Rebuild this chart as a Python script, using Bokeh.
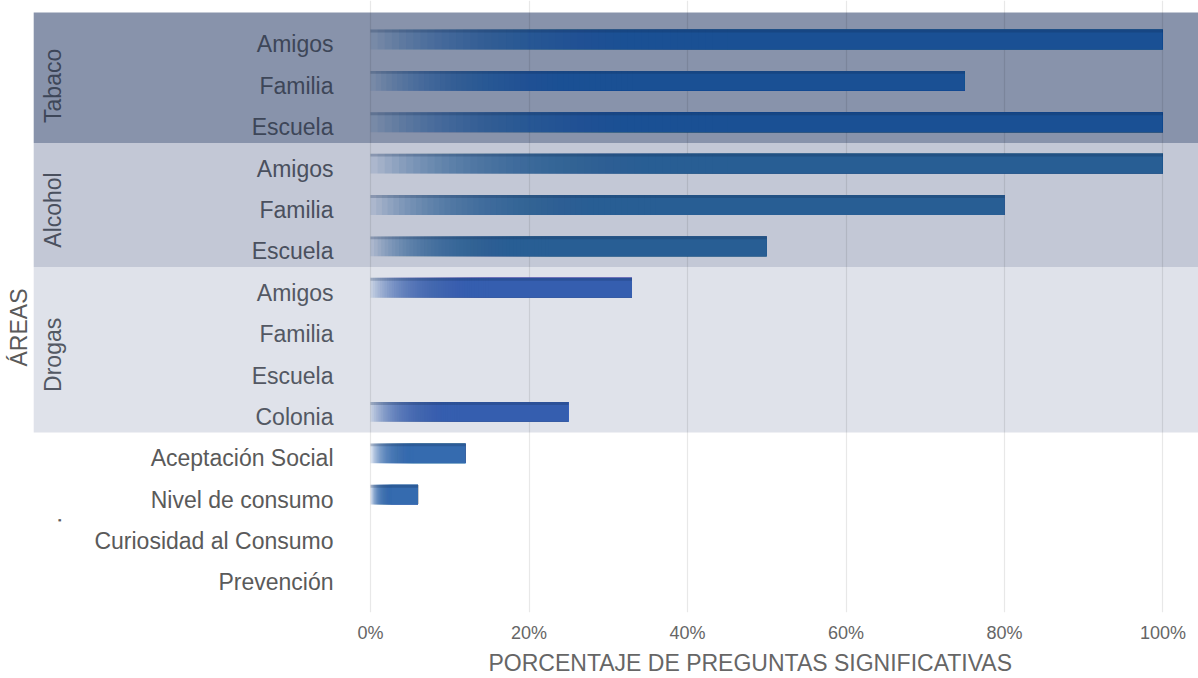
import math
from bokeh.plotting import figure
from bokeh.models import Range1d, FixedTicker, Title, ColumnDataSource
from bokeh.embed import file_html
from bokeh.resources import INLINE
from bokeh.core.properties import value

# ---- data ----
groups = ["Tabaco", "Alcohol", "Drogas", "."]
group_sizes = [3, 3, 4, 4]
items = ["Amigos", "Familia", "Escuela",
         "Amigos", "Familia", "Escuela",
         "Amigos", "Familia", "Escuela", "Colonia",
         "Aceptación Social", "Nivel de consumo", "Curiosidad al Consumo", "Prevención"]
pct = [100, 75, 100, 100, 80, 50, 33, 0, 0, 25, 12, 6, 0, 0]
x_ticks = [0, 20, 40, 60, 80, 100]
x_tick_labels = ["0%", "20%", "40%", "60%", "80%", "100%"]
x_title = "PORCENTAJE DE PREGUNTAS SIGNIFICATIVAS"
y_title = "ÁREAS"

# ---- style ----
band_colors = ["#8893ab", "#c3c8d6", "#dfe2ea", None]
bar_colors = ["#1f5591", "#26589a", "#3063ae", "#3366b3"]
text_colors = ["#3d4658", "#4a505e", "#535863", "#5a5a5a"]
FONT = "Liberation Sans"
BAR_H = 0.48
TXT_DY = 0.12

p = figure(width=1198, height=678, output_backend="svg", toolbar_location=None,
           x_range=Range1d(-46.69, 104.48), y_range=Range1d(13.847, -0.9425),
           min_border_left=0, min_border_right=0, min_border_top=0, min_border_bottom=20,
           background_fill_color="white", border_fill_color="white")
p.outline_line_color = None
p.yaxis.visible = False
p.ygrid.visible = False

rows = list(range(len(items)))
row_group = []
for gi, n in enumerate(group_sizes):
    row_group += [gi] * n

# bands
starts = [sum(group_sizes[:i]) for i in range(len(group_sizes))]
bl, br, bt, bb, bc = [], [], [], [], []
for gi, (s, n) in enumerate(zip(starts, group_sizes)):
    if band_colors[gi] is None:
        continue
    bl.append(-42.5)
    br.append(104.48)
    bt.append(s - 0.5 if s > 0 else -0.65)
    bb.append(s + n - 0.5)
    bc.append(band_colors[gi])
p.quad(left=bl, right=br, top=bt, bottom=bb, fill_color=bc, line_color=None, level="image")

# grid
p.xgrid.ticker = FixedTicker(ticks=x_ticks)
p.xgrid.grid_line_color = "black"
p.xgrid.grid_line_alpha = 0.09
p.xgrid.grid_line_width = 1.2

# gradient bars: overlapping translucent layers, all ending at the value
N = 50
F = 0.45
seg = dict(y=[], left=[], right=[], color=[], alpha=[])
top = dict(y=[], left=[], right=[], color=[])
for r, v in zip(rows, pct):
    if v <= 0:
        continue
    col = bar_colors[row_group[r]]
    seg["y"].append(r)
    seg["left"].append(0)
    seg["right"].append(v)
    seg["color"].append(col)
    seg["alpha"].append(0.15)
    for k in range(1, N + 1):
        seg["y"].append(r)
        seg["left"].append(v * F * k / N)
        seg["right"].append(v)
        seg["color"].append(col)
        seg["alpha"].append(0.075)
    top["y"].append(r - BAR_H / 2 + 0.035)
    top["left"].append(0)
    top["right"].append(v)
    top["color"].append("#0c2448")
p.hbar(y="y", left="left", right="right", height=BAR_H, fill_color="color",
       fill_alpha="alpha", line_color=None, source=ColumnDataSource(seg))
p.hbar(y="y", left="left", right="right", height=0.07, fill_color="color",
       fill_alpha=0.22, line_color=None, source=ColumnDataSource(top))

# item labels
p.text(x=[-4.67] * len(items), y=[r + TXT_DY for r in rows], text=items,
       text_align="right", text_baseline="middle", text_font=value(FONT),
       text_font_size="23px", text_color=[text_colors[g] for g in row_group])

# group labels
gy = [s + (n - 1) / 2 + TXT_DY for s, n in zip(starts, group_sizes)]
p.text(x=[-40.1] * len(groups), y=gy, text=groups, angle=math.pi / 2,
       text_align="center", text_baseline="middle", text_font=value(FONT),
       text_font_size="23px", text_color=text_colors)

# y title
p.text(x=[-44.4], y=[6.96], text=[y_title], angle=math.pi / 2,
       text_align="center", text_baseline="middle", text_font=value(FONT),
       text_font_size="23px", text_color="#5a5a5a")

# x axis
ax = p.xaxis[0]
ax.ticker = FixedTicker(ticks=x_ticks)
ax.major_label_overrides = {t: l for t, l in zip(x_ticks, x_tick_labels)}
ax.axis_line_color = None
ax.major_tick_line_color = None
ax.major_tick_out = 0
ax.major_tick_in = 0
ax.minor_tick_line_color = None
ax.major_label_text_font = FONT
ax.major_label_text_font_size = "18px"
ax.major_label_text_color = "#666666"
ax.major_label_standoff = 10

p.add_layout(Title(text=x_title, align="left", offset=488, text_font=FONT,
                   text_font_size="23px", text_font_style="normal",
                   text_color="#666666", standoff=5), "below")

open("out.html", "w").write(file_html(p, INLINE))
